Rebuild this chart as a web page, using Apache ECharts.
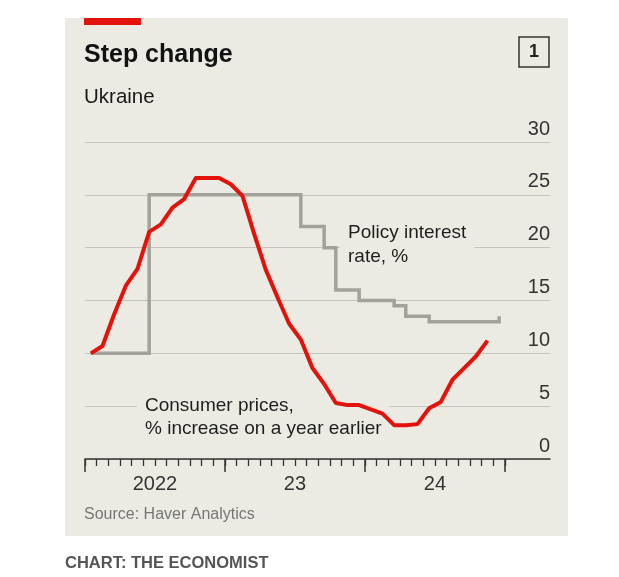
<!DOCTYPE html>
<html>
<head>
<meta charset="utf-8">
<script src="https://cdn.jsdelivr.net/npm/echarts@6/dist/echarts.min.js"></script>
<style>
html,body{margin:0;padding:0;background:#ffffff;}
#chart{width:619px;height:577px;}
</style>
</head>
<body>
<div id="chart"></div>
<script>
// ---- Data ----
const months = [
  '2022-01','2022-02','2022-03','2022-04','2022-05','2022-06','2022-07','2022-08','2022-09','2022-10','2022-11','2022-12',
  '2023-01','2023-02','2023-03','2023-04','2023-05','2023-06','2023-07','2023-08','2023-09','2023-10','2023-11','2023-12',
  '2024-01','2024-02','2024-03','2024-04','2024-05','2024-06','2024-07','2024-08','2024-09','2024-10','2024-11','2024-12'
];
// Consumer prices, % increase on a year earlier (Jan 2022 - Nov 2024)
const cpiValues = [
  10.0, 10.7, 13.7, 16.4, 18.0, 21.5, 22.2, 23.8, 24.6, 26.6, 26.6, 26.6,
  26.0, 24.9, 21.3, 17.9, 15.3, 12.8, 11.3, 8.6, 7.1, 5.3, 5.1, 5.1,
  4.7, 4.3, 3.2, 3.2, 3.3, 4.8, 5.4, 7.5, 8.6, 9.7, 11.2
];
// Policy interest rate, % (Jan 2022 - Dec 2024)
const policyRate = [
  10, 10, 10, 10, 10, 25, 25, 25, 25, 25, 25, 25,
  25, 25, 25, 25, 25, 25, 22, 22, 20, 16, 16, 15,
  15, 15, 14.5, 13.5, 13.5, 13, 13, 13, 13, 13, 13, 13.5
];
const yTickLabels = ['0', '5', '10', '15', '20', '25', '30'];
const yearLabels = ['2022', '23', '24'];

// ---- Build series data (x = month position, plotted mid-month) ----
const monthPos = months.map((m, i) => i + 0.5);
const cpiData = cpiValues.map((v, i) => [monthPos[i], v]);
const policyData = policyRate.map((v, i) => [monthPos[i], v]);
const monthTicks = months.map((m, i) => i).concat([months.length]);
const yearTicks = monthTicks.filter(v => v % 12 === 0);
const yearLabelPos = yearLabels.map((y, i) => i * 12 + 6);

const FONT = '"Liberation Sans", Arial, sans-serif';
const PANEL = '#ECEBE3';

const chart = echarts.init(document.getElementById('chart'), null, {renderer: 'canvas'});
const option = {
  animation: false,
  backgroundColor: '#ffffff',
  grid: {left: 85, right: 69, top: 142, bottom: 118, containLabel: false},
  xAxis: [
    {
      type: 'value', min: 0, max: 39.86,
      axisLine: {show: true, lineStyle: {color: '#333333', width: 1.5}},
      axisTick: {show: true, customValues: monthTicks, length: 7, lineStyle: {color: '#333333', width: 1.3}},
      axisLabel: {show: false},
      splitLine: {show: false}
    },
    {
      type: 'value', min: 0, max: 39.86, position: 'bottom', offset: 0,
      axisLine: {show: false},
      axisTick: {show: true, customValues: yearTicks, length: 13, lineStyle: {color: '#333333', width: 1.5}},
      axisLabel: {
        show: true, customValues: yearLabelPos, margin: 15,
        color: '#333333', fontSize: 20, fontFamily: FONT,
        formatter: v => yearLabels[yearLabelPos.indexOf(v)] || ''
      },
      splitLine: {show: false}
    }
  ],
  yAxis: {
    type: 'value', min: 0, max: 30, interval: 5, position: 'right',
    axisLine: {show: false}, axisTick: {show: false},
    axisLabel: {
      inside: true, margin: 0, color: '#333333', fontSize: 20, fontFamily: FONT,
      verticalAlign: 'bottom', padding: [0, 0, 3, 0],
      formatter: v => yTickLabels[Math.round(v / 5)]
    },
    splitLine: {show: true, lineStyle: {color: '#C6C5BD', width: 1.2}}
  },
  series: [
    {
      name: 'Policy interest rate', type: 'line', step: 'end', xAxisIndex: 0,
      data: policyData, showSymbol: false, symbol: 'none', z: 3,
      lineStyle: {color: '#A3A29A', width: 3.5, join: 'miter'}
    },
    {
      name: 'Consumer prices', type: 'line', xAxisIndex: 0,
      data: cpiData, showSymbol: false, symbol: 'none', z: 4,
      lineStyle: {color: '#E3120B', width: 4, join: 'round'}
    }
  ],
  graphic: [
    {type: 'rect', z: -10, silent: true, shape: {x: 65, y: 18, width: 503, height: 518}, style: {fill: PANEL}},
    {type: 'rect', z: 5, silent: true, shape: {x: 84, y: 18, width: 57, height: 7}, style: {fill: '#E3120B'}},
    {type: 'text', z: 5, x: 84, y: 55, style: {text: 'Step change', fontSize: 25, fontWeight: 'bold', fontFamily: FONT, fill: '#121212', verticalAlign: 'middle'}},
    {type: 'text', z: 5, x: 84, y: 97, style: {text: 'Ukraine', fontSize: 20.5, fontFamily: FONT, fill: '#1a1a1a', verticalAlign: 'middle'}},
    {type: 'rect', z: 5, shape: {x: 519, y: 37, width: 30, height: 30}, style: {fill: 'none', stroke: '#333333', lineWidth: 1.5}},
    {type: 'text', z: 5, x: 534, y: 52.5, style: {text: '1', fontSize: 18, fontWeight: 'bold', fontFamily: FONT, fill: '#222222', align: 'center', verticalAlign: 'middle'}},
    {type: 'text', z: 1, x: 340, y: 220, style: {text: 'Policy interest\nrate, %', fontSize: 19, lineHeight: 24, fontFamily: FONT, fill: '#1e1e1e', verticalAlign: 'top', backgroundColor: PANEL, padding: [1, 8, 1, 8]}},
    {type: 'text', z: 1, x: 137, y: 393, style: {text: 'Consumer prices,\n% increase on a year earlier', fontSize: 19, lineHeight: 23, fontFamily: FONT, fill: '#1e1e1e', verticalAlign: 'top', backgroundColor: PANEL, padding: [1, 8, 1, 8]}},
    {type: 'text', z: 5, x: 84, y: 515, style: {text: 'Source: Haver Analytics', fontSize: 16, fontFamily: FONT, fill: '#767676', verticalAlign: 'middle'}},
    {type: 'text', z: 5, x: 65, y: 563, style: {text: 'CHART: THE ECONOMIST', fontSize: 16.5, fontWeight: 'bold', fontFamily: FONT, fill: '#555555', verticalAlign: 'middle'}}
  ]
};
chart.setOption(option);
</script>
</body>
</html>
